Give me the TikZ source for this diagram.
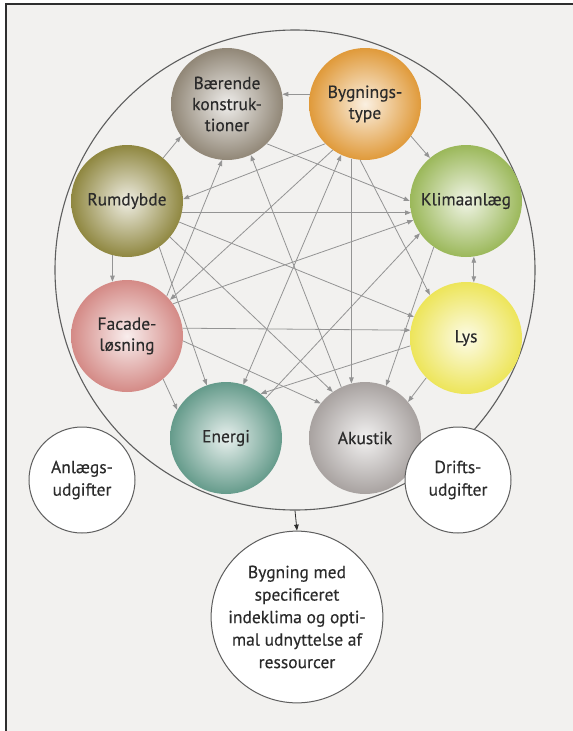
\documentclass[tikz,border=0pt]{standalone}
\usepackage{fontspec}
\setmainfont{PT Sans}[FakeBold=0.35]
\usetikzlibrary{arrows.meta}

\definecolor{bgcol}{HTML}{F2F1EF}
\definecolor{framecol}{HTML}{2E2E2E}
\definecolor{txtgray}{HTML}{2B2B2B}
\definecolor{linkgray}{HTML}{949494}
\definecolor{rimgray}{HTML}{5E5E5E}
\definecolor{baercol}{HTML}{918777}
\definecolor{bygcol}{HTML}{E09A3A}
\definecolor{klimacol}{HTML}{9BB85A}
\definecolor{rumcol}{HTML}{8F8740}
\definecolor{facadecol}{HTML}{D48A86}
\definecolor{lyscol}{HTML}{EDE55A}
\definecolor{energicol}{HTML}{659B8B}
\definecolor{akustikcol}{HTML}{A8A2A0}

\tikzset{
  ball/.style={circle, minimum size=112pt, inner sep=0pt, align=center,
    shading=radial, inner color=#1!15!white, outer color=#1,
    text=txtgray, font=\fontsize{17.5}{21}\selectfont},
  cost/.style={circle, draw=rimgray, line width=1pt, fill=white,
    minimum size=#1, inner sep=0pt, align=center,
    text=txtgray, font=\fontsize{17.5}{22.5}\selectfont},
  link/.style={draw=linkgray, line width=0.8pt, -{Triangle[length=6pt,width=4.5pt]}},
}

\begin{document}
\begin{tikzpicture}[x=1pt,y=-1pt]
  \useasboundingbox (0,0) rectangle (573,731);
  % background and frame
  \fill[bgcol] (6,4) rectangle (573,731);
  \draw[framecol, line width=1.5pt] (6,731) -- (6,4) -- (573,4);

  % outer ring
  \node[circle, draw=rimgray, line width=1.1pt, minimum size=480pt, inner sep=0pt] (ring) at (295,270) {};

  % the eight factors
  \node[ball=baercol]    (baer)    at (227,104) {Bærende\\konstruk-\\tioner};
  \node[ball=bygcol]     (byg)     at (365,104) {Bygnings-\\type};
  \node[ball=rumcol]     (rum)     at (127,201) {Rumdybde};
  \node[ball=klimacol]   (klima)   at (466,201) {Klimaanlæg};
  \node[ball=facadecol]  (facade)  at (127,336) {Facade-\\løsning};
  \node[ball=lyscol]     (lys)     at (466,338) {Lys};
  \node[ball=energicol]  (energi)  at (226,438) {Energi};
  \node[ball=akustikcol] (akustik) at (365,438) {Akustik};

  % costs and result
  \node[cost=106pt] (anlaeg) at (82,480)  {Anlægs-\\udgifter};
  \node[cost=106pt] (drift)  at (458,480) {Drifts-\\udgifter};
  \node[cost=154pt] (result) at (297,617) {Bygning med\\specificeret\\indeklima og opti-\\mal udnyttelse af\\ressourcer};

  % links from Bygningstype
  \draw[link] (byg.170) -- (baer.10);
  \draw[link] (byg.-35) -- (klima.130);
  \draw[link] (byg.225) -- (rum.2);
  \draw[link] (byg.235) -- (facade.40);
  \draw[link] (byg.265) -- (lys.130);
  \draw[link] (byg.256) -- (akustik.104);
  \draw[link, {Triangle[length=6pt,width=4.5pt]}-{Triangle[length=6pt,width=4.5pt]}] (energi.72) -- (byg.245);
  % links from Rumdybde
  \draw[link] (rum.50) -- (baer.215);
  \draw[link] (rum.-12) -- (klima.192);
  \draw[link] (rum.255) -- (facade.105);
  \draw[link] (rum.-22) -- (lys.158);
  \draw[link] (rum.-55) -- (energi.110);
  \draw[link] (rum.-40) -- (akustik.125);
  % links from Facadeløsning
  \draw[link] (facade.45) -- (baer.265);
  \draw[link] (facade.35) -- (klima.200);
  \draw[link] (facade.8) -- (lys.172);
  \draw[link] (facade.-5) -- (akustik.142);
  \draw[link] (facade.-50) -- (energi.150);
  % remaining links
  \draw[link] (akustik.115) -- (baer.295);
  \draw[link] (baer.-45) -- (klima.180);
  \draw[link] (energi.45) -- (klima.215);
  \draw[link] (klima.235) -- (akustik.68);
  \draw[link, {Triangle[length=6pt,width=4.5pt]}-{Triangle[length=6pt,width=4.5pt]}] (klima.278) -- (lys.82);
  \draw[link] (lys.225) -- (akustik.40);
  \draw[link] (lys.188) -- (energi.52);

  % result arrow
  \draw[link, draw=framecol] (ring.south) -- (result.north);
\end{tikzpicture}
\end{document}
